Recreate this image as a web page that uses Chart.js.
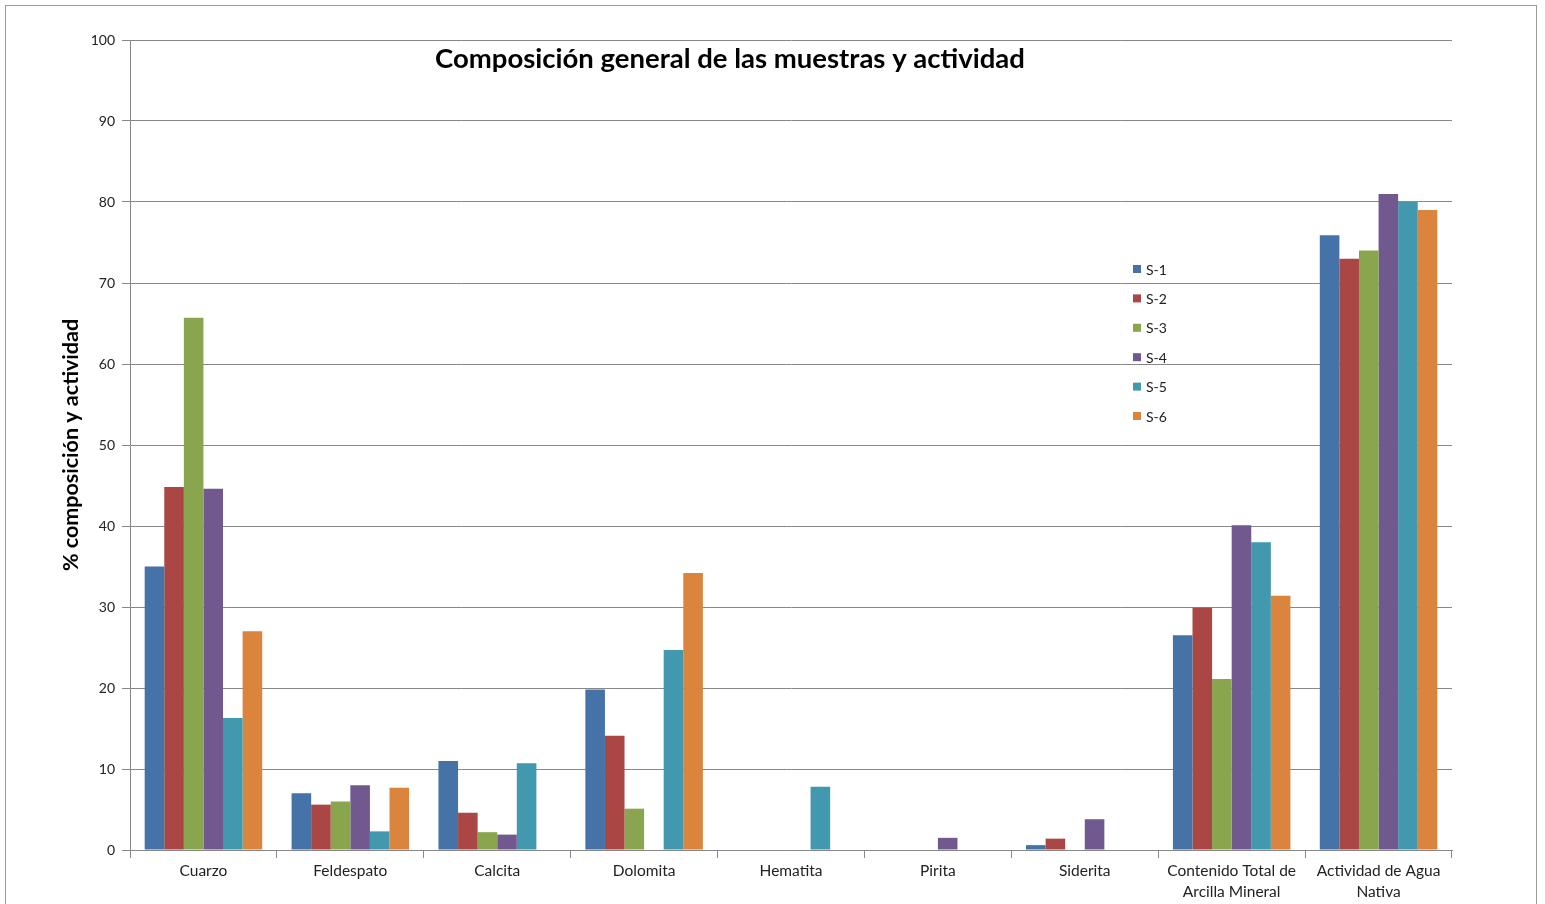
<!DOCTYPE html>
<html>
<head>
<meta charset="utf-8">
<script src="https://cdn.jsdelivr.net/npm/chart.js@4"></script>
<style>
  html, body { margin: 0; padding: 0; background: #fff; }
  #wrap { width: 1545px; height: 904px; position: relative; }
</style>
</head>
<body>
<div id="wrap"><canvas id="mybarchart"></canvas></div>
<script>
var barCanvas = document.getElementById("mybarchart");

/* data */
var categories = [
  'Cuarzo',
  'Feldespato',
  'Calcita',
  'Dolomita',
  'Hematita',
  'Pirita',
  'Siderita',
  ['Contenido Total de', 'Arcilla Mineral'],
  ['Actividad de Agua', 'Nativa']
];
var s1 = [35.0, 7.0, 11.0, 19.8, 0, 0, 0.6, 26.5, 75.9];
var s2 = [44.8, 5.6, 4.6, 14.1, 0, 0, 1.4, 29.9, 73.0];
var s3 = [65.7, 6.0, 2.2, 5.1, 0, 0, 0, 21.1, 74.0];
var s4 = [44.6, 8.0, 1.9, 0, 0, 1.5, 3.8, 40.1, 81.0];
var s5 = [16.3, 2.3, 10.7, 24.7, 7.8, 0, 0, 38.0, 80.0];
var s6 = [27.0, 7.7, 0, 34.2, 0, 0, 0, 31.4, 79.0];
var seriesNames = ['S-1', 'S-2', 'S-3', 'S-4', 'S-5', 'S-6'];
var yTicks = [0, 10, 20, 30, 40, 50, 60, 70, 80, 90, 100];

var colors = ['#4572A7', '#AA4643', '#89A54E', '#71588F', '#4198AF', '#DB843D'];
var FONT = 'Lato, "Open Sans", sans-serif';

var bar_data = {
  labels: categories,
  datasets: [s1, s2, s3, s4, s5, s6].map(function (vals, i) {
    return {
      label: seriesNames[i],
      data: vals,
      backgroundColor: colors[i],
      borderWidth: 0
    };
  })
};

// title, y axis title, legend and outer frame drawn over the chart
var decorations = {
  id: 'decorations',
  afterDraw: function (chart) {
    var ctx = chart.ctx;
    ctx.save();

    // outer frame
    ctx.strokeStyle = '#9a9a9a';
    ctx.lineWidth = 1;
    ctx.strokeRect(5.5, 5.5, 1531, 910);

    // title
    ctx.fillStyle = '#000';
    ctx.font = 'bold 27.5px ' + FONT;
    ctx.textAlign = 'center';
    ctx.textBaseline = 'middle';
    ctx.fillText('Composición general de las muestras y actividad', 730, 59);

    // y axis title
    ctx.save();
    ctx.translate(71, 445);
    ctx.rotate(-Math.PI / 2);
    ctx.font = 'bold 21.5px ' + FONT;
    ctx.fillText('% composición y actividad', 0, 0);
    ctx.restore();

    // legend
    ctx.font = '14px ' + FONT;
    ctx.textAlign = 'left';
    chart.data.datasets.forEach(function (ds, i) {
      var y = 269 + i * 29.4;
      ctx.fillStyle = ds.backgroundColor;
      ctx.fillRect(1133, y - 4, 8, 8);
      ctx.fillStyle = '#222';
      ctx.fillText(ds.label, 1146, y + 1);
    });

    ctx.restore();
  }
};

var mybarchart = new Chart(barCanvas, {
  type: 'bar',
  data: bar_data,
  plugins: [decorations],
  options: {
    responsive: true,
    maintainAspectRatio: false,
    animation: false,
    layout: {
      padding: { left: 0, top: 40, right: 93, bottom: 0 }
    },
    datasets: {
      bar: {
        barPercentage: 1.0,
        categoryPercentage: 0.8
      }
    },
    plugins: {
      legend: { display: false },
      tooltip: { enabled: false }
    },
    scales: {
      x: {
        afterFit: function (scale) { scale.height = 54; },
        grid: {
          drawOnChartArea: false,
          drawTicks: true,
          tickLength: 8,
          color: '#888',
          offset: true
        },
        border: { color: '#888' },
        ticks: {
          color: '#222',
          font: { family: FONT, size: 15.5, lineHeight: 1.35 },
          padding: 3,
          maxRotation: 0,
          autoSkip: false
        }
      },
      y: {
        min: 0,
        max: 100,
        afterFit: function (scale) { scale.width = 130; },
        afterBuildTicks: function (scale) {
          scale.ticks = yTicks.map(function (v) { return { value: v }; });
        },
        grid: {
          color: '#888',
          tickLength: 8,
          lineWidth: 1
        },
        border: { color: '#888' },
        ticks: {
          color: '#222',
          font: { family: FONT, size: 14 },
          padding: 7
        }
      }
    }
  }
});
</script>
</body>
</html>
